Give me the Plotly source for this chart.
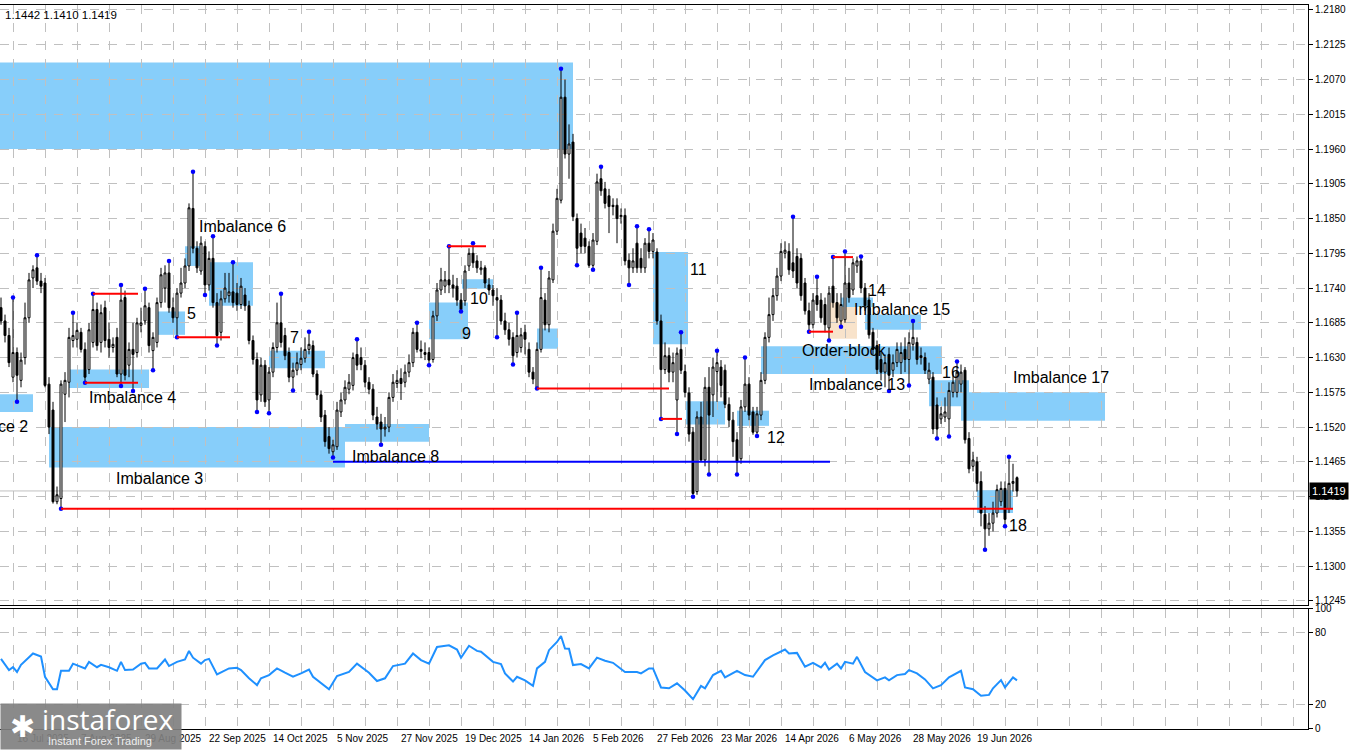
import pandas as pd
import plotly.graph_objects as go

# ---------------- data (daily bars) ----------------
opens = [
 1.1709,1.1688,1.1665,1.1599,1.1638,1.1594,1.1630,1.1693,1.1756,1.1772,
 1.1751,1.1748,1.1588,1.1547,1.1402,1.1407,1.1572,1.1591,1.1657,1.1659,
 1.1670,1.1643,1.1611,1.1654,1.1706,1.1654,1.1709,1.1659,1.1646,1.1662,
 1.1604,1.1725,1.1618,1.1643,1.1638,1.1681,1.1688,1.1709,1.1641,1.1654,
 1.1717,1.1740,1.1764,1.1709,1.1693,1.1732,1.1748,1.1775,1.1866,1.1803,
 1.1767,1.1806,1.1745,1.1787,1.1717,1.1670,1.1723,1.1728,1.1734,1.1732,
 1.1714,1.1729,1.1712,1.1657,1.1627,1.1571,1.1618,1.1563,1.1607,1.1646,
 1.1685,1.1665,1.1638,1.1599,1.1610,1.1619,1.1629,1.1643,1.1649,1.1604,
 1.1571,1.1539,1.1505,1.1481,1.1489,1.1544,1.1563,1.1580,1.1586,1.1635,
 1.1630,1.1618,1.1591,1.1580,1.1536,1.1528,1.1517,1.1520,1.1567,1.1589,
 1.1597,1.1591,1.1607,1.1622,1.1670,1.1643,1.1638,1.1638,1.1627,1.1696,
 1.1737,1.1743,1.1753,1.1745,1.1743,1.1721,1.1720,1.1775,1.1795,1.1783,
 1.1769,1.1772,1.1745,1.1737,1.1725,1.1721,1.1688,1.1674,1.1662,1.1638,
 1.1646,1.1670,1.1643,1.1607,1.1583,1.1643,1.1721,1.1682,1.1753,1.1830,
 1.1879,1.2042,1.1952,1.1971,1.1850,1.1827,1.1819,1.1806,1.1776,1.1814,
 1.1913,1.1897,1.1886,1.1871,1.1871,1.1853,1.1855,1.1784,1.1772,1.1811,
 1.1787,1.1772,1.1811,1.1798,1.1797,1.1688,1.1611,1.1633,1.1607,1.1563,
 1.1643,1.1608,1.1574,1.1512,1.1418,1.1536,1.1468,1.1583,1.1571,1.1608,
 1.1615,1.1610,1.1556,1.1531,1.1500,1.1470,1.1552,1.1588,1.1544,1.1512,
 1.1539,1.1594,1.1662,1.1698,1.1728,1.1759,1.1795,1.1798,1.1780,1.1790,
 1.1787,1.1748,1.1704,1.1682,1.1728,1.1721,1.1714,1.1677,1.1743,1.1717,
 1.1688,1.1690,1.1748,1.1737,1.1775,1.1783,1.1740,1.1721,1.1670,1.1649,
 1.1627,1.1607,1.1635,1.1610,1.1622,1.1622,1.1643,1.1627,1.1651,1.1654,
 1.1633,1.1630,1.1596,1.1599,1.1555,1.1533,1.1536,1.1533,1.1575,1.1575,
 1.1588,1.1610,1.1502,1.1458,1.1465,1.1434,1.1382,1.1359,1.1368,1.1384,
 1.1402,1.1423,1.1391,1.1431,1.1440]
highs = [
 1.1725,1.1698,1.1677,1.1725,1.1646,1.1638,1.1717,1.1764,1.1776,1.1792,
 1.1764,1.1756,1.1599,1.1560,1.1426,1.1594,1.1607,1.1677,1.1701,1.1685,
 1.1677,1.1654,1.1685,1.1731,1.1717,1.1714,1.1720,1.1685,1.1662,1.1677,
 1.1745,1.1736,1.1654,1.1685,1.1693,1.1709,1.1739,1.1717,1.1670,1.1725,
 1.1772,1.1776,1.1783,1.1725,1.1740,1.1772,1.1787,1.1874,1.1924,1.1814,
 1.1822,1.1814,1.1798,1.1822,1.1732,1.1736,1.1764,1.1764,1.1781,1.1748,
 1.1756,1.1740,1.1720,1.1665,1.1638,1.1630,1.1626,1.1615,1.1654,1.1717,
 1.1731,1.1677,1.1646,1.1622,1.1638,1.1646,1.1662,1.1671,1.1657,1.1610,
 1.1578,1.1547,1.1520,1.1500,1.1560,1.1575,1.1594,1.1604,1.1638,1.1659,
 1.1646,1.1626,1.1599,1.1588,1.1552,1.1541,1.1536,1.1575,1.1604,1.1610,
 1.1613,1.1619,1.1635,1.1677,1.1685,1.1657,1.1654,1.1646,1.1704,1.1748,
 1.1772,1.1767,1.1806,1.1761,1.1756,1.1732,1.1776,1.1803,1.1811,1.1792,
 1.1783,1.1776,1.1756,1.1745,1.1740,1.1729,1.1701,1.1685,1.1670,1.1701,
 1.1677,1.1682,1.1654,1.1615,1.1654,1.1772,1.1732,1.1767,1.1842,1.1897,
 1.2087,1.2070,1.1999,1.1984,1.1858,1.1842,1.1835,1.1814,1.1827,1.1921,
 1.1932,1.1908,1.1897,1.1882,1.1882,1.1866,1.1866,1.1795,1.1803,1.1838,
 1.1803,1.1819,1.1833,1.1827,1.1803,1.1698,1.1654,1.1646,1.1638,1.1646,
 1.1670,1.1619,1.1583,1.1520,1.1545,1.1560,1.1599,1.1615,1.1630,1.1641,
 1.1626,1.1619,1.1567,1.1544,1.1512,1.1563,1.1630,1.1599,1.1552,1.1552,
 1.1607,1.1670,1.1725,1.1740,1.1772,1.1811,1.1814,1.1811,1.1853,1.1803,
 1.1795,1.1756,1.1717,1.1732,1.1758,1.1732,1.1725,1.1743,1.1789,1.1732,
 1.1732,1.1798,1.1772,1.1787,1.1790,1.1790,1.1748,1.1732,1.1677,1.1657,
 1.1638,1.1635,1.1646,1.1635,1.1654,1.1654,1.1662,1.1670,1.1688,1.1662,
 1.1646,1.1638,1.1622,1.1607,1.1567,1.1552,1.1567,1.1591,1.1607,1.1624,
 1.1619,1.1615,1.1512,1.1481,1.1473,1.1450,1.1395,1.1384,1.1402,1.1429,
 1.1434,1.1434,1.1473,1.1462,1.1442]
lows = [
 1.1682,1.1654,1.1615,1.1591,1.1560,1.1583,1.1619,1.1685,1.1740,1.1745,
 1.1732,1.1583,1.1509,1.1399,1.1398,1.1391,1.1528,1.1567,1.1646,1.1646,
 1.1638,1.1590,1.1604,1.1646,1.1641,1.1638,1.1646,1.1630,1.1638,1.1599,
 1.1585,1.1594,1.1599,1.1577,1.1630,1.1670,1.1682,1.1638,1.1610,1.1646,
 1.1709,1.1717,1.1701,1.1685,1.1662,1.1725,1.1740,1.1767,1.1795,1.1764,
 1.1761,1.1729,1.1736,1.1709,1.1649,1.1657,1.1717,1.1717,1.1709,1.1704,
 1.1707,1.1704,1.1651,1.1619,1.1544,1.1560,1.1552,1.1542,1.1599,1.1638,
 1.1646,1.1626,1.1591,1.1578,1.1602,1.1610,1.1622,1.1635,1.1599,1.1563,
 1.1528,1.1489,1.1478,1.1472,1.1484,1.1536,1.1556,1.1572,1.1578,1.1610,
 1.1610,1.1583,1.1572,1.1531,1.1516,1.1492,1.1505,1.1512,1.1560,1.1582,
 1.1563,1.1583,1.1599,1.1615,1.1638,1.1629,1.1626,1.1618,1.1622,1.1688,
 1.1729,1.1732,1.1732,1.1725,1.1712,1.1703,1.1712,1.1767,1.1772,1.1764,
 1.1761,1.1740,1.1729,1.1712,1.1662,1.1682,1.1666,1.1649,1.1619,1.1630,
 1.1638,1.1635,1.1599,1.1588,1.1581,1.1638,1.1673,1.1670,1.1748,1.1824,
 1.1874,1.1945,1.1913,1.1846,1.1776,1.1795,1.1795,1.1772,1.1769,1.1808,
 1.1886,1.1866,1.1827,1.1855,1.1811,1.1842,1.1776,1.1745,1.1764,1.1764,
 1.1764,1.1764,1.1787,1.1787,1.1682,1.1533,1.1604,1.1591,1.1591,1.1509,
 1.1604,1.1567,1.1497,1.1410,1.1413,1.1465,1.1458,1.1445,1.1536,1.1560,
 1.1567,1.1550,1.1520,1.1473,1.1445,1.1462,1.1544,1.1531,1.1508,1.1506,
 1.1531,1.1588,1.1654,1.1688,1.1720,1.1751,1.1787,1.1761,1.1756,1.1740,
 1.1720,1.1698,1.1671,1.1676,1.1704,1.1685,1.1670,1.1657,1.1709,1.1685,
 1.1679,1.1685,1.1717,1.1729,1.1764,1.1732,1.1704,1.1660,1.1635,1.1604,
 1.1594,1.1583,1.1577,1.1599,1.1615,1.1604,1.1607,1.1586,1.1641,1.1619,
 1.1619,1.1604,1.1588,1.1509,1.1502,1.1525,1.1528,1.1505,1.1567,1.1567,
 1.1575,1.1494,1.1447,1.1450,1.1418,1.1363,1.1326,1.1348,1.1355,1.1377,
 1.1395,1.1363,1.1384,1.1418,1.1410]
closes = [
 1.1688,1.1665,1.1622,1.1638,1.1602,1.1626,1.1693,1.1753,1.1769,1.1751,
 1.1743,1.1586,1.1520,1.1402,1.1413,1.1588,1.1594,1.1662,1.1665,1.1673,
 1.1643,1.1599,1.1674,1.1706,1.1649,1.1701,1.1657,1.1646,1.1651,1.1604,
 1.1721,1.1602,1.1643,1.1635,1.1685,1.1685,1.1712,1.1649,1.1662,1.1717,
 1.1761,1.1764,1.1709,1.1693,1.1732,1.1748,1.1775,1.1867,1.1803,1.1772,
 1.1811,1.1745,1.1787,1.1717,1.1665,1.1723,1.1740,1.1734,1.1717,1.1714,
 1.1743,1.1712,1.1657,1.1627,1.1563,1.1618,1.1560,1.1607,1.1646,1.1685,
 1.1654,1.1633,1.1599,1.1610,1.1622,1.1629,1.1643,1.1651,1.1604,1.1571,
 1.1536,1.1497,1.1486,1.1492,1.1547,1.1563,1.1583,1.1591,1.1630,1.1618,
 1.1619,1.1591,1.1580,1.1539,1.1525,1.1517,1.1520,1.1567,1.1591,1.1594,
 1.1589,1.1607,1.1622,1.1670,1.1643,1.1640,1.1635,1.1626,1.1696,1.1737,
 1.1753,1.1753,1.1745,1.1740,1.1721,1.1706,1.1767,1.1795,1.1780,1.1772,
 1.1772,1.1748,1.1737,1.1728,1.1721,1.1688,1.1674,1.1659,1.1633,1.1665,
 1.1666,1.1659,1.1607,1.1596,1.1643,1.1725,1.1682,1.1756,1.1830,1.1882,
 1.2042,1.1952,1.1968,1.1853,1.1803,1.1806,1.1806,1.1776,1.1816,1.1908,
 1.1894,1.1874,1.1869,1.1869,1.1850,1.1855,1.1783,1.1772,1.1783,1.1772,
 1.1772,1.1811,1.1798,1.1816,1.1688,1.1611,1.1633,1.1607,1.1622,1.1637,
 1.1610,1.1575,1.1509,1.1415,1.1536,1.1468,1.1583,1.1539,1.1615,1.1622,
 1.1586,1.1556,1.1531,1.1497,1.1465,1.1552,1.1588,1.1539,1.1512,1.1541,
 1.1594,1.1662,1.1698,1.1728,1.1759,1.1798,1.1800,1.1769,1.1767,1.1748,
 1.1728,1.1704,1.1682,1.1721,1.1714,1.1693,1.1682,1.1732,1.1717,1.1693,
 1.1714,1.1748,1.1725,1.1780,1.1783,1.1740,1.1712,1.1666,1.1643,1.1611,
 1.1607,1.1622,1.1602,1.1622,1.1643,1.1638,1.1627,1.1654,1.1662,1.1627,
 1.1630,1.1610,1.1610,1.1517,1.1517,1.1541,1.1544,1.1578,1.1591,1.1607,
 1.1607,1.1500,1.1454,1.1468,1.1431,1.1384,1.1359,1.1368,1.1384,1.1421,
 1.1423,1.1374,1.1431,1.1434,1.1419]

# RSI readings (bar index, value)
rsi_bar = [0,2,3,4,5,8,10,11,13,14,15,17,18,21,22,24,25,27,29,30,31,33,35,36,37,39,41,42,44,46,
           47,48,50,51,52,54,57,59,60,62,64,65,67,69,71,73,75,77,78,80,82,84,87,89,92,94,96,98,101,103,
           105,107,109,112,114,115,117,119,120,123,125,126,128,129,131,133,134,136,137,139,140,141,142,143,145,147,149,151,153,156,
           159,160,162,163,165,167,169,171,173,175,176,178,180,181,184,186,188,191,193,196,197,199,201,203,205,206,207,209,210,211,
           213,214,216,219,221,222,224,226,227,229,231,233,235,237,240,241,243,245,247,248,250,251,253,254]
rsi_val = [58,48.6,51,47,53,62.5,60,43,32.5,32.5,48,48,54,50,55.5,51,53,51,48,55.5,48.6,49,54,54.7,50,50,57.5,52,55.5,57.5,
           64.7,59,54,57,58,45,50,50.5,48.6,41.7,36,41.7,44.4,50,46.4,43,45.8,49,43,37.5,32.5,43.6,47,54,46.4,39.4,41.7,52,54,62.5,
           57,54,68,69.4,65.8,59,69,64.7,64,55.5,53.6,45.8,39,43,40,35.3,50,55.5,65.3,72.2,77.2,66.7,66.5,52.8,53.6,50,59,56.4,54.7,47,
           47,45.8,50,50,34,33.3,37.5,31.4,24.2,35.3,33.3,44.4,48,42.5,48,44.4,43,57,61,65.8,62.5,63,51.4,54.7,50.8,54.7,49,54,50,55.5,
           54,59.7,47,40,42.5,40,44.4,45.3,48.6,45.8,40.8,33.3,36,42.5,48,34,32.5,27,27.8,33.3,40.2,34,42.5,40]

# fractal marks (bar indices)
frac_hi = [3,9,18,23,30,36,42,48,53,58,70,77,89,104,112,118,129,135,140,150,159,162,170,179,186,198,204,208,211,215,228,239,252]
frac_lo = [4,15,21,30,33,38,44,51,54,64,67,73,83,95,107,115,124,128,134,144,148,157,165,169,173,177,184,189,202,207,210,222,227,234,237,246,251]

# zones: (bar from, bar to, price low, price high)
zones = [(-3,143,1.1960,1.2097),(-3,8,1.1544,1.1572),(12,86,1.1456,1.1520),(17,37,1.1582,1.1611),
         (39,46,1.1666,1.1703),(46,50,1.1775,1.1806),(52,63,1.1712,1.1781),(67,81,1.1613,1.1641),
         (86,107,1.1497,1.1525),(107,116.75,1.1659,1.1717),(115.25,123,1.1739,1.1754),(134,139.25,1.1644,1.1676),
         (163,171.75,1.1651,1.1797),(171.25,181,1.1524,1.1561),(184,192,1.1522,1.1546),(190,235.25,1.1604,1.1648),
         (210,218,1.1710,1.1725),(216,230,1.1674,1.1698),(232,242,1.1553,1.1594),(240,276,1.1530,1.1575),
         (244,253,1.1384,1.1420)]
order_block = (206.75,214,1.1660,1.1717)
zone_labels = [("Imbalance 2",7.25,1.1521,"right"),("Imbalance 3",28.25,1.1439,"left"),("Imbalance 4",21.5,1.1567,"left"),
               ("5",46.0,1.1699,"left"),("Imbalance 6",49.0,1.1838,"left"),("7",71.75,1.1662,"left"),
               ("Imbalance 8",87.25,1.1473,"left"),("9",114.75,1.1668,"left"),("10",116.75,1.1723,"left"),
               ("11",171.75,1.1769,"left"),("12",191.0,1.1503,"left"),("Order-block",199.75,1.1641,"left"),
               ("Imbalance 13",201.5,1.1588,"left"),("14",216.25,1.1736,"left"),("Imbalance 15",212.75,1.1706,"left"),
               ("16",234.75,1.1607,"left"),("Imbalance 17",252.5,1.1599,"left"),("18",251.5,1.1365,"left")]
# horizontal levels: (bar from, bar to, price, colour)
levels = [(15,253,1.1391,"#FF0000"),(23,34.25,1.1731,"#FF0000"),(21,34.25,1.1590,"#FF0000"),
          (44,57.25,1.1662,"#FF0000"),(111.75,121.25,1.1806,"#FF0000"),(134,167,1.1581,"#FF0000"),
          (165,170.25,1.1533,"#FF0000"),(202,208,1.1671,"#FF0000"),(208,213,1.1789,"#FF0000"),
          (83,207.25,1.1465,"#0000FF")]

price_ticks = [1.1245,1.1300,1.1355,1.1410,1.1465,1.1520,1.1575,1.1630,1.1685,1.1740,
               1.1795,1.1850,1.1905,1.1960,1.2015,1.2070,1.2125,1.2180]
rsi_ticks = [0,20,80,100]
date_labels = ["16 Jul 2025","7 Aug 2025","29 Aug 2025","22 Sep 2025","14 Oct 2025","5 Nov 2025",
               "27 Nov 2025","19 Dec 2025","14 Jan 2026","5 Feb 2026","27 Feb 2026","23 Mar 2026",
               "14 Apr 2026","6 May 2026","28 May 2026","19 Jun 2026"]
header_text = "1.1442 1.1410 1.1419"
last_price = closes[-1]

# ---------------- categories ----------------
holidays = {"2025-12-25", "2026-01-01"}
dates = [d for d in pd.bdate_range("2025-07-11", "2026-09-30") if d.strftime("%Y-%m-%d") not in holidays][:len(closes)]
bars = list(range(len(closes)))
date_text = [d.strftime("%-d %b %Y") for d in dates]
label_pos = [date_text.index(t) for t in date_labels]

X_RANGE = [-0.25, 326.75]
grid_pos = list(range(label_pos[0], 327, 8))
FONT = "Liberation Sans"
GRID = "#C0C0C0"

fig = go.Figure()
fig.add_trace(go.Candlestick(
    x=bars, open=opens, high=highs, low=lows, close=closes,
    increasing=dict(line=dict(color="black", width=1), fillcolor="white"),
    decreasing=dict(line=dict(color="black", width=1), fillcolor="black"),
    whiskerwidth=0, showlegend=False, hoverinfo="skip", xaxis="x", yaxis="y"))
fig.add_trace(go.Scatter(x=frac_hi, y=[highs[i] for i in frac_hi], mode="markers",
                         marker=dict(color="#0000FF", size=4.5), showlegend=False, hoverinfo="skip"))
fig.add_trace(go.Scatter(x=frac_lo, y=[lows[i] for i in frac_lo], mode="markers",
                         marker=dict(color="#0000FF", size=4.5), showlegend=False, hoverinfo="skip"))
fig.add_trace(go.Scatter(x=rsi_bar, y=rsi_val, mode="lines", line=dict(color="#1E90FF", width=2),
                         showlegend=False, hoverinfo="skip", xaxis="x2", yaxis="y2"))

shapes = []
x0, x1, y0, y1 = order_block
shapes.append(dict(type="rect", xref="x", yref="y", x0=x0, x1=x1, y0=y0, y1=y1,
                   fillcolor="#F8E3CB", line=dict(width=0), layer="below"))
for (a, b, lo, hi) in zones:
    shapes.append(dict(type="rect", xref="x", yref="y", x0=a, x1=b, y0=lo, y1=hi,
                       fillcolor="#87CEFA", line=dict(width=0), layer="below"))
shapes.append(dict(type="line", xref="paper", yref="y", x0=0, x1=1, y0=last_price, y1=last_price,
                   line=dict(color="#C0C0C0", width=1), layer="below"))
for (a, b, p, c) in levels:
    shapes.append(dict(type="line", xref="x", yref="y", x0=a, x1=b, y0=p, y1=p,
                       line=dict(color=c, width=2), layer="above"))

ann = []
for (t, x, y, anc) in zone_labels:
    ann.append(dict(text=t, x=x, y=y, xref="x", yref="y", xanchor=anc, yanchor="middle",
                    showarrow=False, font=dict(family=FONT, size=16, color="black")))
for t, p in zip(date_labels, label_pos):
    ann.append(dict(text=t, x=p + 0.4, y=0, xref="x2", yref="paper", xanchor="left", yanchor="top",
                    yshift=-2, showarrow=False, font=dict(family=FONT, size=10, color="black")))
ann.append(dict(text=header_text, x=3 / 1308, y=1 - 10 / 729, xref="paper", yref="paper",
                xanchor="left", yanchor="middle", showarrow=False,
                font=dict(family=FONT, size=11.5, color="black")))
ann.append(dict(text="%.4f" % last_price, x=1, y=last_price, xref="paper", yref="y", xanchor="left",
                yanchor="middle", xshift=1, showarrow=False, bgcolor="black", borderpad=2,
                font=dict(family=FONT, size=11, color="white")))
# watermark logo
ann.append(dict(text=" ", x=0, y=-21 / 729, xref="paper", yref="paper", xanchor="left", yanchor="bottom",
                width=180, height=45, bgcolor="rgba(128,128,128,0.92)", borderpad=0, showarrow=False))
ann.append(dict(text="instaforex", x=40 / 1308, y=(729 - 719) / 729, xref="paper", yref="paper",
                xanchor="left", yanchor="middle", showarrow=False,
                font=dict(family="Open Sans", size=28, color="white")))
ann.append(dict(text="Instant Forex Trading", x=46 / 1308, y=(729 - 741) / 729, xref="paper", yref="paper",
                xanchor="left", yanchor="middle", showarrow=False,
                font=dict(family=FONT, size=11, color="#EEEEEE")))
ann.append(dict(text="✱", x=8 / 1308, y=(729 - 726) / 729, xref="paper", yref="paper",
                xanchor="left", yanchor="middle", showarrow=False,
                font=dict(family="DejaVu Sans", size=30, color="white")))

axis_common = dict(showgrid=True, gridcolor=GRID, griddash="dash", gridwidth=1, zeroline=False,
                   showline=True, linecolor="black", linewidth=1)
fig.update_layout(
    width=1350, height=750, margin=dict(l=0, r=42, t=0, b=21),
    paper_bgcolor="white", plot_bgcolor="white", showlegend=False,
    shapes=shapes, annotations=ann, hovermode=False,
    xaxis=dict(domain=[0, 1], anchor="y", range=X_RANGE, tickvals=grid_pos, showticklabels=False,
               mirror=True, ticks="", rangeslider=dict(visible=False), **axis_common),
    yaxis=dict(domain=[0.1715, 1], anchor="x", range=[1.12388, 1.21879], side="right",
               tickvals=price_ticks, ticktext=["%.4f" % v for v in price_ticks],
               ticks="outside", ticklen=4, tickcolor="black",
               tickfont=dict(family=FONT, size=10, color="black"), **axis_common),
    xaxis2=dict(domain=[0, 1], anchor="y2", range=X_RANGE, tickvals=grid_pos, showticklabels=False,
                mirror=True, ticks="", **axis_common),
    yaxis2=dict(domain=[0, 0.166], anchor="x2", range=[-0.83, 100], side="right",
                tickvals=rsi_ticks, ticks="outside", ticklen=4, tickcolor="black",
                tickfont=dict(family=FONT, size=10, color="black"), **axis_common),
)
fig.write_html("out.html", config={"displayModeBar": False})
